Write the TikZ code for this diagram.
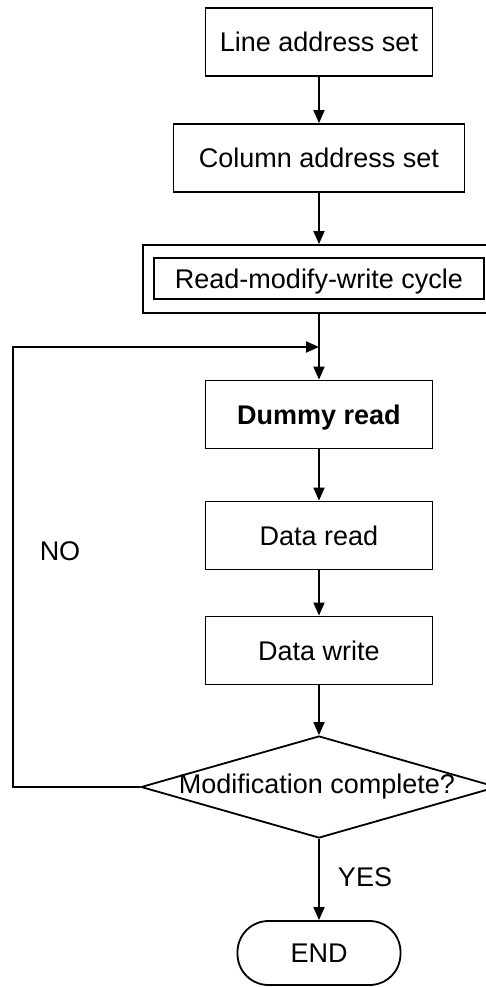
\documentclass[tikz,border=0pt]{standalone}
\usepackage{fontspec}
\setmainfont{Liberation Sans}
\usetikzlibrary{arrows.meta,shapes.geometric}
\begin{document}
\begin{tikzpicture}[x=1pt,y=-1pt,
  txt/.style={font=\fontsize{27}{30}\selectfont, inner sep=0pt, text height=19pt, text depth=0pt},
  box/.style={txt, draw, line width=1.8pt, minimum width=#1, minimum height=68pt},
  box/.default=227pt,
  arr/.style={line width=1.8pt, -{Triangle[width=11pt,length=13pt]}},
  ln/.style={line width=1.8pt}]
\useasboundingbox (0,0) rectangle (485,987);
\node[box=227pt] (line) at (319,42) {Line address set};
\node[box=291pt] (col) at (319,158) {Column address set};
\node[draw, ln, minimum width=352pt, minimum height=68pt, inner sep=0pt] (rmwo) at (319,279) {};
\node[box=330pt, minimum height=41pt] (rmw) at (319,278.5) {Read-modify-write cycle};
\coordinate (jn) at (319,347);
\coordinate (corner) at (13,347);
\node[box=227pt] (dummy) at (319,414.5) {\bfseries Dummy read};
\node[box=227pt] (dread) at (319,535.5) {Data read};
\node[box=227pt] (dwrite) at (319,650.5) {Data write};
\node[diamond, draw, ln, minimum width=356pt, minimum height=102pt, inner sep=0pt] (dec) at (319,787) {};
\node[txt] (dectext) at (317,784) {Modification complete?};
\node[txt, draw, ln, rounded corners=31pt, minimum width=163pt, minimum height=64pt] (end) at (319,953) {END};
\node[txt] (no) at (60,551) {NO};
\node[txt] (yes) at (365,877) {YES};
\draw[arr] (line) -- (col);
\draw[arr] (col) -- (rmwo);
\draw[arr] (rmwo) -- (dummy);
\draw[arr] (dummy) -- (dread);
\draw[arr] (dread) -- (dwrite);
\draw[arr] (dwrite) -- (dec);
\draw[arr] (dec) -- (end);
\draw[arr] (dec.west) -| (corner) -- (jn);
\end{tikzpicture}
\end{document}
